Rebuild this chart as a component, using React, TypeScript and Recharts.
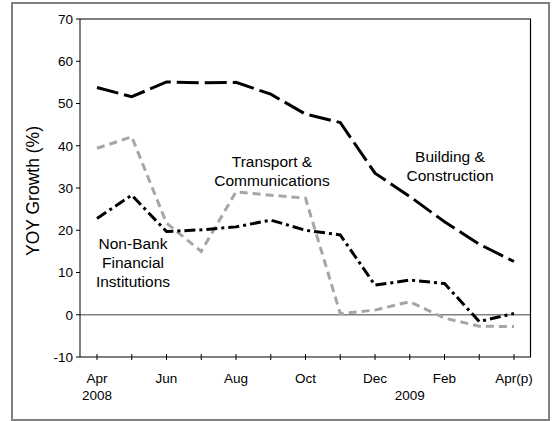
import { LineChart, Line, XAxis, YAxis, ReferenceLine } from 'recharts'

const months = ['Apr', 'May', 'Jun', 'Jul', 'Aug', 'Sep', 'Oct', 'Nov', 'Dec', 'Jan', 'Feb', 'Mar', 'Apr(p)']
const monthLabels = ['Apr', '', 'Jun', '', 'Aug', '', 'Oct', '', 'Dec', '', 'Feb', '', 'Apr(p)']
const yearLabels = ['2008', '', '', '', '', '', '', '', '', '2009', '', '', '']

const building = [53.8, 51.6, 55.1, 54.9, 55, 52.2, 47.5, 45.5, 33.5, 28, 22, 16.7, 12.6]
const transport = [39.4, 42.1, 21.7, 15, 29.1, 28.3, 27.6, 0.3, 1.1, 3.1, -0.8, -2.7, -2.8]
const nonBank = [22.8, 28.3, 19.7, 20.1, 20.8, 22.4, 20, 18.9, 7.0, 8.2, 7.4, -1.6, 0.3]

const yTicks = [-10, 0, 10, 20, 30, 40, 50, 60, 70]

const data = months.map((m, i) => ({
  month: m,
  building: building[i],
  transport: transport[i],
  nonBank: nonBank[i],
}))

const font = '"Liberation Sans", Arial, sans-serif'

const MonthTick = (props: any) => {
  const { x, y, index } = props
  return (
    <g>
      <line x1={x} x2={x} y1={y - 3} y2={y + 3} stroke="#000" strokeWidth={1} />
      <text x={x} y={y + 26} textAnchor="middle" fontSize={13.5} fontFamily={font} fill="#000">
        {monthLabels[index]}
      </text>
      <text x={x} y={y + 43} textAnchor="middle" fontSize={13.5} fontFamily={font} fill="#000">
        {yearLabels[index]}
      </text>
    </g>
  )
}

export default function App() {
  return (
    <div style={{ position: 'absolute', left: 0, top: 0, width: 553, height: 421, background: '#fff' }}>
      <div
        style={{
          position: 'absolute',
          left: 11,
          top: 2,
          width: 539,
          height: 419,
          border: '2px solid #808080',
          boxSizing: 'border-box',
        }}
      />
      <div style={{ position: 'absolute', left: 0, top: 0 }}>
        <LineChart width={553} height={421} data={data} margin={{ top: 19, right: 22, bottom: 24, left: 0 }}>
          <XAxis
            dataKey="month"
            interval={0}
            padding={{ left: 17, right: 17 }}
            tickLine={false}
            tickSize={0}
            tickMargin={0}
            height={40}
            stroke="#000"
            tick={<MonthTick />}
          />
          <YAxis
            domain={[-10, 70]}
            ticks={yTicks}
            interval={0}
            width={80}
            tickSize={4}
            tickMargin={3}
            stroke="#000"
            tick={{ fill: '#000', fontSize: 13.5, fontFamily: font }}
          />
          <ReferenceLine y={70} stroke="#000" strokeWidth={1} />
          <ReferenceLine y={0} stroke="#808080" strokeWidth={1.5} />
          <Line
            type="linear"
            dataKey="transport"
            stroke="#a6a6a6"
            strokeWidth={3}
            strokeDasharray="8 5"
            dot={false}
            isAnimationActive={false}
          />
          <Line
            type="linear"
            dataKey="nonBank"
            stroke="#000"
            strokeWidth={3}
            strokeDasharray="11 4 3 4"
            dot={false}
            isAnimationActive={false}
          />
          <Line
            type="linear"
            dataKey="building"
            stroke="#000"
            strokeWidth={3}
            strokeDasharray="22 6"
            dot={false}
            isAnimationActive={false}
          />
        </LineChart>
      </div>
      <svg width={553} height={421} style={{ position: 'absolute', left: 0, top: 0, pointerEvents: 'none' }}>
        {/* right edge of the plot frame */}
        <line x1={530.5} x2={530.5} y1={19} y2={357} stroke="#000" strokeWidth={1.2} />
        <text
          x={33}
          y={191}
          transform="rotate(-90 33 191)"
          textAnchor="middle"
          dominantBaseline="central"
          fontSize={17.5}
          fontFamily={font}
          fill="#000"
        >
          YOY Growth (%)
        </text>
        <g fontSize={15.5} fontFamily={font} fill="#000" textAnchor="middle">
          <text x={272} y={167}>Transport &amp;</text>
          <text x={272} y={186}>Communications</text>
          <text x={450} y={162}>Building &amp;</text>
          <text x={450} y={181}>Construction</text>
          <text x={133} y={249}>Non-Bank</text>
          <text x={133} y={268}>Financial</text>
          <text x={133} y={287}>Institutions</text>
        </g>
      </svg>
    </div>
  )
}
